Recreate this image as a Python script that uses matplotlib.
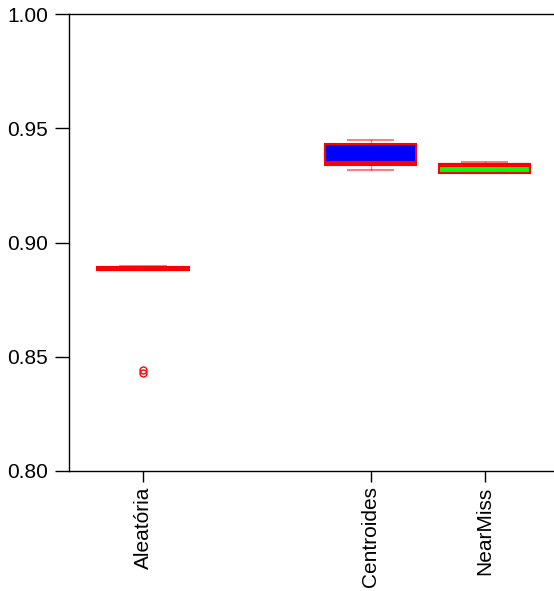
import matplotlib
matplotlib.use("Agg")
import matplotlib.pyplot as plt

categories = ["Aleatória", "Centroides", "NearMiss"]
positions = [1, 3, 4]
whislo = [0.8880, 0.9319, 0.9305]
q1 = [0.8880, 0.9339, 0.9305]
med = [0.8886, 0.9350, 0.9337]
q3 = [0.8893, 0.9430, 0.9344]
whishi = [0.8897, 0.9450, 0.9351]
fliers = [[0.8440, 0.8431], [], []]
fills = ["#ff0000", "#0000ff", "#00ff00"]
yticks = [0.80, 0.85, 0.90, 0.95, 1.00]

plt.rcParams['font.family'] = ['Liberation Sans', 'DejaVu Sans']

fig = plt.figure(figsize=(5.54, 5.91), dpi=100)
ax = fig.add_axes([69/554, 1 - 471/591, 1 - 69/554, (471 - 14)/591])

stats = []
for i, c in enumerate(categories):
    stats.append(dict(label=c, whislo=whislo[i], q1=q1[i], med=med[i],
                      q3=q3[i], whishi=whishi[i], fliers=fliers[i]))

bp = ax.bxp(stats, positions=positions, widths=0.8, patch_artist=True,
            boxprops=dict(edgecolor="#ff0000", linewidth=1.5),
            medianprops=dict(color="#ff0000", linewidth=3),
            whiskerprops=dict(color="#ff0000", alpha=0.5, linewidth=1),
            capprops=dict(color="#ff0000", alpha=0.5, linewidth=1.5),
            flierprops=dict(marker="o", markerfacecolor="none",
                            markeredgecolor="#ff0000", markersize=5,
                            markeredgewidth=1.0),
            capwidths=0.4)
for patch, col in zip(bp["boxes"], fills):
    patch.set_facecolor(col)

ax.set_xlim(0.35, 4.61)
ax.set_ylim(0.80, 1.00)
ax.set_yticks(yticks)
ax.set_yticklabels([f"{v:.2f}" for v in yticks], fontsize=15)
ax.set_xticks(positions)
ax.set_xticklabels(categories, rotation=90, fontsize=15)
ax.tick_params(axis="y", length=10, width=1, pad=5)
ax.tick_params(axis="x", length=8, width=1, pad=3)
ax.spines["right"].set_visible(False)
for s in ["left", "bottom", "top"]:
    ax.spines[s].set_linewidth(1)

fig.savefig("out.png", dpi=100)
